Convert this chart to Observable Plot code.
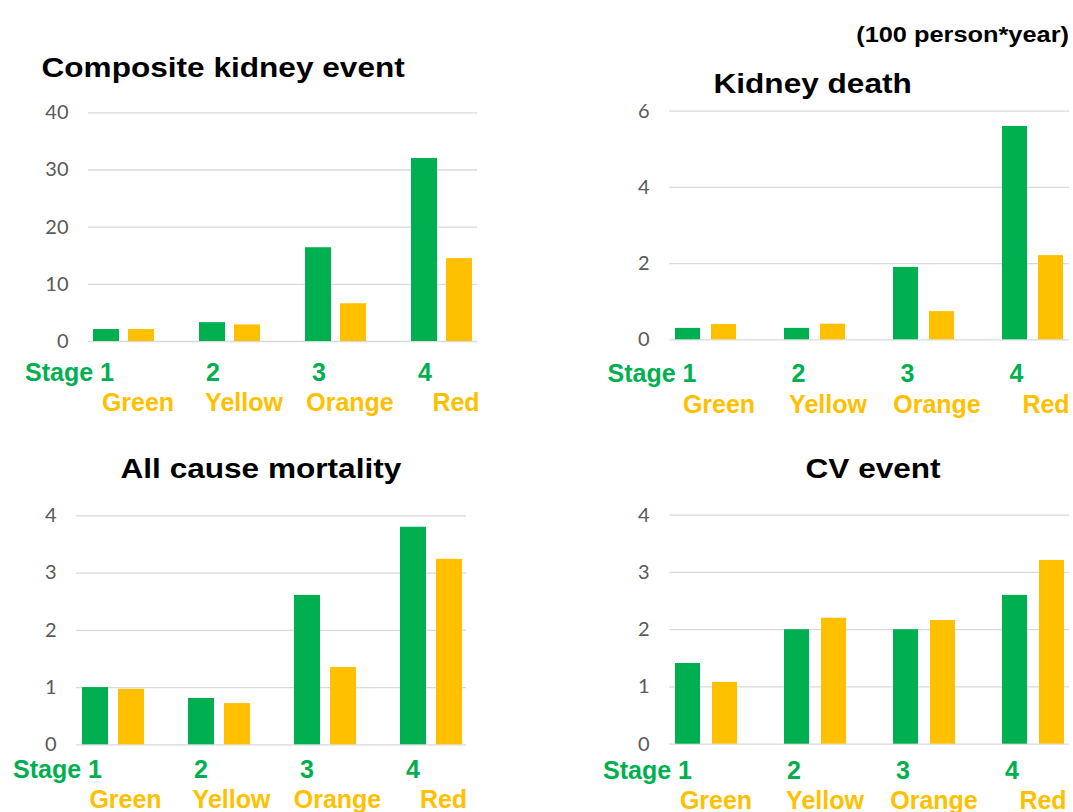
<!DOCTYPE html>
<html><head><meta charset="utf-8">
<script src="https://cdn.jsdelivr.net/npm/d3@7"></script>
<script src="https://cdn.jsdelivr.net/npm/@observablehq/plot@0.6"></script>
<style>
html,body{margin:0;padding:0;background:#fff;}
#page{position:relative;width:1073px;height:812px;overflow:hidden;background:#fff;}
.panel{position:absolute;}
</style></head><body><div id="page"></div>
<script>
// ---- data ----
const groups = ["1", "2", "3", "4"];
const stageLabels = ["Stage 1", "2", "3", "4"];
const colorLabels = ["Green", "Yellow", "Orange", "Red"];
const titles = ["Composite kidney event", "Kidney death", "All cause mortality", "CV event"];
const unitNote = "(100 person*year)";

const compositeStage = [2.1, 3.3, 16.4, 32.0];
const compositeColor = [2.1, 2.9, 6.6, 14.5];
const kidneyDeathStage = [0.30, 0.30, 1.90, 5.60];
const kidneyDeathColor = [0.40, 0.41, 0.74, 2.21];
const mortalityStage = [1.00, 0.81, 2.61, 3.80];
const mortalityColor = [0.97, 0.72, 1.35, 3.24];
const cvStage = [1.41, 2.00, 2.00, 2.60];
const cvColor = [1.08, 2.20, 2.16, 3.21];

const compositeTicks = [0, 10, 20, 30, 40];
const kidneyDeathTicks = [0, 2, 4, 6];
const mortalityTicks = [0, 1, 2, 3, 4];
const cvTicks = [0, 1, 2, 3, 4];

const GREEN = "#00B050", YELLOW = "#FFC000";

// ---- layout ----
const panels = [
  {stage: compositeStage, color: compositeColor, ticks: compositeTicks, title: titles[0],
   left: 0, top: 90, width: 500, height: 330, mL: 88, mR: 23, mT: 22.3, mB: 79,
   start: 93, step: 106, gw: 61, bw: 26, sDx: -10, cDx: 14, sDy: 39, cDy: 69.7, tx: 41.5, ty: 77.3},
  {stage: kidneyDeathStage, color: kidneyDeathColor, ticks: kidneyDeathTicks, title: titles[1],
   left: 590, top: 90, width: 483, height: 330, mL: 79, mR: 4, mT: 20.7, mB: 80.7,
   start: 84, step: 109.3, gw: 61, bw: 25, sDx: -9.5, cDx: 13, sDy: 41.7, cDy: 72.7, tx: 713.5, ty: 93.3},
  {stage: mortalityStage, color: mortalityColor, ticks: mortalityTicks, title: titles[2],
   left: 0, top: 500, width: 500, height: 312, mL: 76, mR: 34, mT: 15.3, mB: 67.7,
   start: 81, step: 106.4, gw: 62, bw: 26, sDx: -11.5, cDx: 12, sDy: 33, cDy: 62.7, tx: 120.5, ty: 478.3},
  {stage: cvStage, color: cvColor, ticks: cvTicks, title: titles[3],
   left: 590, top: 500, width: 483, height: 312, mL: 79, mR: 4, mT: 14.7, mB: 68.3,
   start: 84, step: 109.3, gw: 62, bw: 25, sDx: -14.5, cDx: 9.5, sDy: 34.3, cDy: 64.3, tx: 805.5, ty: 477.7}
];

const page = document.getElementById("page");

function makePanel(p) {
  const rows = groups.map((g, i) => ({
    group: g, stage: p.stage[i], color: p.color[i],
    stageLabel: stageLabels[i], colorLabel: colorLabels[i]
  }));
  const pad = 1 - p.gw / p.step;
  const labelFont = {fontSize: 25, fontWeight: "bold", fontFamily: "Liberation Sans, Arial, sans-serif"};
  const chart = Plot.plot({
    width: p.width, height: p.height,
    marginLeft: p.mL, marginRight: p.mR, marginTop: p.mT, marginBottom: p.mB,
    style: {background: "transparent", overflow: "visible"},
    x: {type: "band", domain: groups, range: [p.start, p.start + 3 * p.step + p.gw],
        paddingInner: pad, paddingOuter: 0, axis: null},
    y: {domain: [p.ticks[0], p.ticks[p.ticks.length - 1]], axis: null},
    marks: [
      Plot.gridY(p.ticks, {stroke: "#d9d9d9", strokeOpacity: 1, strokeWidth: 1.3}),
      Plot.axisY(p.ticks, {tickSize: 0, tickPadding: 20, fontSize: 20, fill: "#595959",
                           fontFamily: "Lato, sans-serif", label: null, tickFormat: d => String(d)}),
      Plot.barY(rows, {x: "group", y: "stage", fill: GREEN, insetRight: p.gw - p.bw}),
      Plot.barY(rows, {x: "group", y: "color", fill: YELLOW, insetLeft: p.gw - p.bw}),
      Plot.text(rows, {x: "group", frameAnchor: "bottom", text: "stageLabel", textAnchor: "end",
                       lineAnchor: "bottom", dx: p.sDx, dy: p.sDy, fill: GREEN, ...labelFont}),
      Plot.text(rows, {x: "group", frameAnchor: "bottom", text: "colorLabel", textAnchor: "middle",
                       lineAnchor: "bottom", dx: p.cDx, dy: p.cDy, fill: YELLOW, ...labelFont})
    ]
  });
  const wrap = document.createElement("div");
  wrap.className = "panel";
  wrap.style.left = p.left + "px";
  wrap.style.top = p.top + "px";
  wrap.appendChild(chart);
  page.appendChild(wrap);
}
panels.forEach(makePanel);

// ---- titles overlay ----
const overlay = d3.select(page).append("svg")
  .attr("width", 1073).attr("height", 812)
  .style("position", "absolute").style("left", "0px").style("top", "0px")
  .style("pointer-events", "none");

panels.forEach(p => {
  overlay.append("text")
    .attr("transform", `translate(${p.tx},${p.ty}) scale(1.17,1)`)
    .attr("font-family", "Liberation Sans, Arial, sans-serif")
    .attr("font-weight", "bold")
    .attr("font-size", 27)
    .attr("fill", "#000")
    .text(p.title);
});

overlay.append("text")
  .attr("transform", `translate(1069,41.7) scale(1.18,1)`)
  .attr("text-anchor", "end")
  .attr("font-family", "Liberation Sans, Arial, sans-serif")
  .attr("font-weight", "bold")
  .attr("font-size", 21.5)
  .attr("fill", "#000")
  .text(unitNote);
</script>
</body></html>
